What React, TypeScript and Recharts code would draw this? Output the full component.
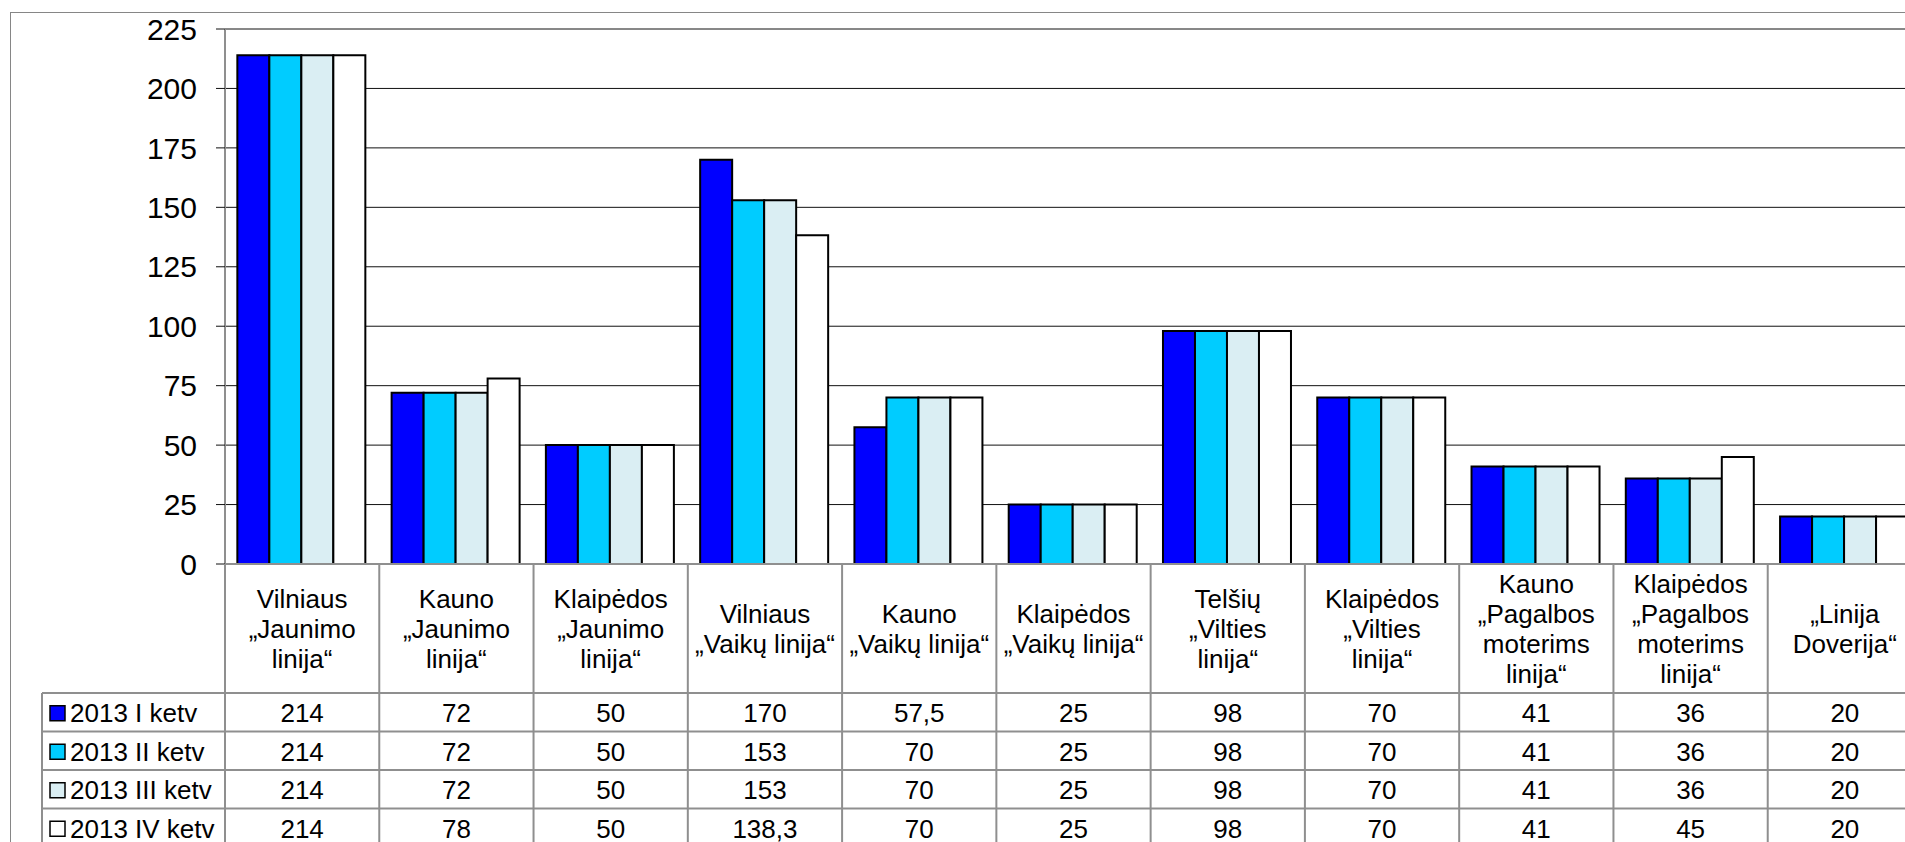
import React from 'react';
import { BarChart, Bar, XAxis, YAxis, CartesianGrid } from 'recharts';

// ---------- data ----------
const categories: string[][] = [
  ['Vilniaus', '„Jaunimo', 'linija“'],
  ['Kauno', '„Jaunimo', 'linija“'],
  ['Klaipėdos', '„Jaunimo', 'linija“'],
  ['Vilniaus', '„Vaikų linija“'],
  ['Kauno', '„Vaikų linija“'],
  ['Klaipėdos', '„Vaikų linija“'],
  ['Telšių', '„Vilties', 'linija“'],
  ['Klaipėdos', '„Vilties', 'linija“'],
  ['Kauno', '„Pagalbos', 'moterims', 'linija“'],
  ['Klaipėdos', '„Pagalbos', 'moterims', 'linija“'],
  ['„Linija', 'Doverija“'],
];
const categoryKeys = categories.map((c) => c.join(' '));

const seriesNames = ['2013 I ketv', '2013 II ketv', '2013 III ketv', '2013 IV ketv'];
const q1 = [214, 72, 50, 170, 57.5, 25, 98, 70, 41, 36, 20];
const q2 = [214, 72, 50, 153, 70, 25, 98, 70, 41, 36, 20];
const q3 = [214, 72, 50, 153, 70, 25, 98, 70, 41, 36, 20];
const q4 = [214, 78, 50, 138.3, 70, 25, 98, 70, 41, 45, 20];
const seriesValues = [q1, q2, q3, q4];
const yTicks = [0, 25, 50, 75, 100, 125, 150, 175, 200, 225];

// ---------- styles ----------
const seriesColors = ['#0000FF', '#00CCFF', '#DAEEF3', '#FFFFFF'];
const FONT = "Arial, 'Liberation Sans', sans-serif";
const GRID = '#8f8f8f';

const CHART_W = 1930;
const MARGIN = { top: 29, right: 8, bottom: 0, left: 0 };
const YAXIS_W = 225;
const PLOT_H = 535;
const XAXIS_H = 300;
const CHART_H = MARGIN.top + PLOT_H + XAXIS_H;
const PLOT_W = CHART_W - MARGIN.left - MARGIN.right - YAXIS_W;
const COL_W = PLOT_W / categories.length;

const LABEL_H = 129;
const ROW_H = 38.5;
const LINE_H = 30;
const TABLE_FS = 26;

const data = categoryKeys.map((name, i) => {
  const row: Record<string, any> = { name };
  seriesValues.forEach((vals, s) => {
    row['s' + s] = vals[i];
  });
  return row;
});

const fmt = (v: number) => String(v).replace('.', ',');

const TableTick = (props: any) => {
  const { x, y, payload } = props;
  const i = categoryKeys.indexOf(payload.value);
  if (i < 0) return null;
  const half = COL_W / 2;
  const left = x - half;
  const right = x + half;
  const lines = categories[i];
  const bottom = y + LABEL_H + ROW_H * seriesNames.length + 20;
  const els: React.ReactNode[] = [];

  // category label
  lines.forEach((t, k) => {
    els.push(
      <text
        key={'l' + k}
        x={x}
        y={y + LABEL_H / 2 + (k - (lines.length - 1) / 2) * LINE_H}
        textAnchor="middle"
        dominantBaseline="central"
        fontSize={TABLE_FS}
        fontFamily={FONT}
        fill="#000"
      >
        {t}
      </text>
    );
  });

  // values
  seriesValues.forEach((vals, s) => {
    els.push(
      <text
        key={'v' + s}
        x={x}
        y={y + LABEL_H + ROW_H * s + ROW_H / 2 + 1}
        textAnchor="middle"
        dominantBaseline="central"
        fontSize={TABLE_FS}
        fontFamily={FONT}
        fill="#000"
      >
        {fmt(vals[i])}
      </text>
    );
  });

  // horizontal row lines
  for (let r = 0; r <= seriesNames.length; r++) {
    const yy = y + LABEL_H + ROW_H * r;
    els.push(<line key={'h' + r} x1={left} x2={right} y1={yy} y2={yy} stroke={GRID} strokeWidth={2} />);
  }
  // vertical boundaries
  els.push(<line key="vr" x1={right} x2={right} y1={y} y2={bottom} stroke={GRID} strokeWidth={2} />);

  if (i === 0) {
    els.push(<line key="vl" x1={left} x2={left} y1={y} y2={bottom} stroke={GRID} strokeWidth={2} />);
    // legend column
    const lx = 42;
    els.push(<line key="lgl" x1={lx} x2={lx} y1={y + LABEL_H} y2={bottom} stroke={GRID} strokeWidth={2} />);
    for (let r = 0; r <= seriesNames.length; r++) {
      const yy = y + LABEL_H + ROW_H * r;
      els.push(<line key={'lh' + r} x1={lx} x2={left} y1={yy} y2={yy} stroke={GRID} strokeWidth={2} />);
    }
    seriesNames.forEach((nm, s) => {
      const cy = y + LABEL_H + ROW_H * s + ROW_H / 2 + 1;
      els.push(
        <rect key={'lm' + s} x={50} y={cy - 7.5} width={15} height={15} fill={seriesColors[s]} stroke="#000" strokeWidth={1.5} />
      );
      els.push(
        <text key={'lt' + s} x={70} y={cy} dominantBaseline="central" fontSize={TABLE_FS} fontFamily={FONT} fill="#000">
          {nm}
        </text>
      );
    });
  }
  return <g>{els}</g>;
};

export default function App() {
  return (
    <div style={{ position: 'fixed', left: 0, top: 0, width: 1905, height: 842, overflow: 'hidden', background: '#fff' }}>
      <div
        style={{
          position: 'absolute',
          left: 10,
          top: 12,
          width: 2000,
          height: 1000,
          border: '1px solid #868686',
          boxSizing: 'border-box',
        }}
      />
      <div style={{ position: 'absolute', left: 0, top: 0 }}>
        <BarChart
          width={CHART_W}
          height={CHART_H}
          data={data}
          margin={MARGIN}
          barCategoryGap="8%"
          barGap={0}
        >
          <CartesianGrid vertical={false} stroke="#111111" strokeWidth={1} />
          {seriesNames.map((nm, s) => (
            <Bar
              key={nm}
              dataKey={'s' + s}
              name={nm}
              fill={seriesColors[s]}
              stroke="#000"
              strokeWidth={2}
              isAnimationActive={false}
            />
          ))}
          <XAxis
            dataKey="name"
            height={XAXIS_H}
            interval={0}
            tickSize={0}
            tickMargin={0}
            tickLine={false}
            axisLine={{ stroke: GRID, strokeWidth: 2 }}
            tick={(p: any) => <TableTick {...p} />}
          />
          <YAxis
            width={YAXIS_W}
            domain={[0, 225]}
            ticks={yTicks}
            interval={0}
            tickSize={9}
            tickMargin={19}
            axisLine={{ stroke: GRID, strokeWidth: 2 }}
            tickLine={{ stroke: '#111111' }}
            tick={{ fontSize: 30, fill: '#000', fontFamily: FONT }}
          />
        </BarChart>
      </div>
    </div>
  );
}
